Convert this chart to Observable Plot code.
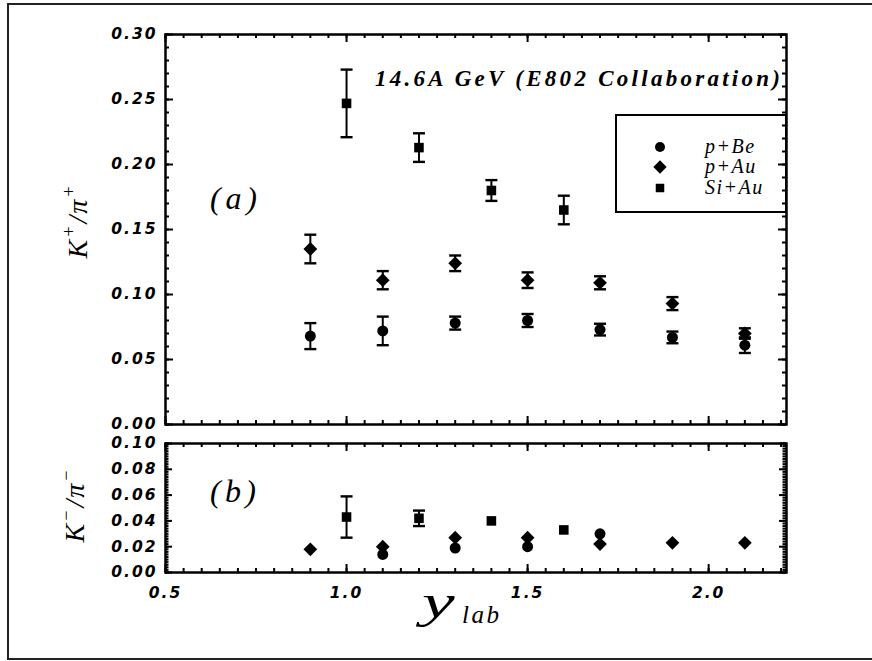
<!DOCTYPE html>
<html>
<head>
<meta charset="utf-8">
<script src="https://cdn.jsdelivr.net/npm/d3@7"></script>
<script src="https://cdn.jsdelivr.net/npm/@observablehq/plot@0.6"></script>
<style>
  body { margin: 0; background: #fff; }
  #fig { position: relative; width: 872px; height: 661px; overflow: hidden; background: #fff; }
  #sheet { position: absolute; left: 7px; top: 3px; width: 900px; height: 657px;
           border: 2px solid #222; border-right: none; box-sizing: border-box; }
  #fig svg { position: absolute; left: 0; }
</style>
</head>
<body>
<div id="fig"><div id="sheet"></div></div>
<script>
// Rapidity bins
const rapPBe  = [0.9, 1.1, 1.3, 1.5, 1.7, 1.9, 2.1];
const rapPAu  = [0.9, 1.1, 1.3, 1.5, 1.7, 1.9, 2.1];
const rapSiAu = [1.0, 1.2, 1.4, 1.6];

// K+/pi+ ratios and errors
const kpPBe     = [0.068, 0.072, 0.078, 0.080, 0.073, 0.067, 0.061];
const kpPBeErr  = [0.010, 0.011, 0.005, 0.005, 0.0045, 0.0045, 0.006];
const kpPAu     = [0.135, 0.111, 0.124, 0.111, 0.109, 0.093, 0.070];
const kpPAuErr  = [0.011, 0.007, 0.006, 0.006, 0.005, 0.005, 0.004];
const kpSiAu    = [0.247, 0.213, 0.180, 0.165];
const kpSiAuErr = [0.026, 0.011, 0.008, 0.011];

// K-/pi- ratios and errors
const rapPBeNeg = [1.1, 1.3, 1.5, 1.7];
const kmPBe     = [0.014, 0.019, 0.020, 0.030];
const kmPAu     = [0.018, 0.020, 0.027, 0.027, 0.022, 0.023, 0.023];
const kmSiAu    = [0.043, 0.042, 0.040, 0.033];
const kmSiAuErr = [0.016, 0.006, 0, 0];

// Axis ticks
const xMajor = [0.5, 1.0, 1.5, 2.0];
const xMinor = d3.range(10, 45).map(i => i * 0.05);
const yTopMajor = [0, 0.05, 0.10, 0.15, 0.20, 0.25, 0.30];
const yTopMinor = d3.range(0, 31).map(i => i / 100);
const yBotMajor = [0, 0.02, 0.04, 0.06, 0.08, 0.10];
const yBotMinor = d3.range(0, 51).map(i => i * 0.002);

const legendLabels = ["p+Be", "p+Au", "Si+Au"];
const xDomain = [0.5, 2.215];
const yTopDomain = [0, 0.30];
const yBotDomain = [0, 0.10];

const rows = (xs, vs, es) => xs.map((x, i) => ({x, v: vs[i], e: es ? es[i] : 0}));

// horizontal bar used as an error-bar cap
const cap = {
  draw(ctx, size) {
    const w = Math.sqrt(size / Math.PI);
    ctx.moveTo(-w, 0);
    ctx.lineTo(w, 0);
  }
};

const axisStyle = {
  fontFamily: "DejaVu Sans",
  fontStyle: "italic",
  fontWeight: "bold",
  fontSize: "15.5px",
  letterSpacing: "2px",
  color: "black",
  background: "transparent",
  overflow: "visible"
};

const W = 872, ML = 165, MR = 86;
const innerW = W - ML - MR;

// inward ticks on all four sides, as short rules; tick lengths are
// given in pixels and converted to data units of the panel
function boxTicks(innerH, yDom, yMajor, yMinor, yMaj, yMin, xMaj, xMin) {
  const ux = (xDomain[1] - xDomain[0]) / innerW;
  const uy = (yDom[1] - yDom[0]) / innerH;
  const ty = (ticks, len) => [
    Plot.ruleY(ticks, {y: d => d, x1: xDomain[0], x2: xDomain[0] + len * ux, stroke: "black", strokeWidth: 2}),
    Plot.ruleY(ticks, {y: d => d, x1: xDomain[1] - len * ux, x2: xDomain[1], stroke: "black", strokeWidth: 2})
  ];
  const tx = (ticks, len) => [
    Plot.ruleX(ticks, {x: d => d, y1: yDom[0], y2: yDom[0] + len * uy, stroke: "black", strokeWidth: 2}),
    Plot.ruleX(ticks, {x: d => d, y1: yDom[1] - len * uy, y2: yDom[1], stroke: "black", strokeWidth: 2})
  ];
  return [...ty(yMinor, yMin), ...ty(yMajor, yMaj), ...tx(xMinor, xMin), ...tx(xMajor, xMaj)];
}

function errorMarks(data) {
  const d = data.filter(r => r.e > 0);
  return [
    Plot.ruleX(d, {x: "x", y1: r => r.v - r.e, y2: r => r.v + r.e, stroke: "black", strokeWidth: 2}),
    Plot.dot(d, {x: "x", y: r => r.v + r.e, symbol: cap, r: 6, fill: "none", stroke: "black", strokeWidth: 2.4}),
    Plot.dot(d, {x: "x", y: r => r.v - r.e, symbol: cap, r: 6, fill: "none", stroke: "black", strokeWidth: 2.4})
  ];
}

function dotMarks(be, au, si) {
  return [
    Plot.dot(be, {x: "x", y: "v", symbol: "circle", r: 5.5, fill: "black"}),
    Plot.dot(au, {x: "x", y: "v", symbol: "diamond2", r: 6.2, fill: "black"}),
    Plot.dot(si, {x: "x", y: "v", symbol: "square", r: 5.4, fill: "black"})
  ];
}

const fig = document.getElementById("fig");

// (a) K+/pi+
const kpBe = rows(rapPBe, kpPBe, kpPBeErr);
const kpAu = rows(rapPAu, kpPAu, kpPAuErr);
const kpSi = rows(rapSiAu, kpSiAu, kpSiAuErr);
const topH = 436, topMT = 34, topMB = 12;
const topPlot = Plot.plot({
  width: W, height: topH,
  marginLeft: ML, marginRight: MR, marginTop: topMT, marginBottom: topMB,
  x: {domain: xDomain, label: null, axis: null},
  y: {domain: yTopDomain, label: null},
  style: axisStyle,
  marks: [
    Plot.axisY({anchor: "left", ticks: yTopMajor, tickSize: 0, tickPadding: 8, tickFormat: d3.format(".2f"), label: null}),
    Plot.frame({stroke: "black", strokeWidth: 2.5}),
    ...boxTicks(topH - topMT - topMB, yTopDomain, yTopMajor, yTopMinor, 8, 4, 8, 4),
    ...errorMarks([...kpBe, ...kpAu, ...kpSi]),
    ...dotMarks(kpBe, kpAu, kpSi)
  ]
});
topPlot.style.top = "0px";
fig.append(topPlot);

// (b) K-/pi-
const kmBe = rows(rapPBeNeg, kmPBe);
const kmAu = rows(rapPAu, kmPAu);
const kmSi = rows(rapSiAu, kmSiAu, kmSiAuErr);
const botH = 225, botMT = 7, botMB = 89;
const botPlot = Plot.plot({
  width: W, height: botH,
  marginLeft: ML, marginRight: MR, marginTop: botMT, marginBottom: botMB,
  x: {domain: xDomain, label: null},
  y: {domain: yBotDomain, label: null},
  style: axisStyle,
  marks: [
    Plot.axisY({anchor: "left", ticks: yBotMajor, tickSize: 0, tickPadding: 8, tickFormat: d3.format(".2f"), label: null}),
    Plot.axisX({anchor: "bottom", ticks: xMajor, tickSize: 0, tickPadding: 14, tickFormat: d3.format(".1f"), label: null}),
    Plot.frame({stroke: "black", strokeWidth: 2.5}),
    ...boxTicks(botH - botMT - botMB, yBotDomain, yBotMajor, yBotMinor, 7, 3.5, 8, 4),
    ...errorMarks(kmSi),
    ...dotMarks(kmBe, kmAu, kmSi)
  ]
});
botPlot.style.top = "436px";
fig.append(botPlot);

// annotations: titles, panel tags, axis titles, legend
const ann = d3.select(fig).append("svg")
  .attr("width", 872).attr("height", 661)
  .style("top", "0px").style("pointer-events", "none");

const serif = "Liberation Serif";

ann.append("text")
  .attr("x", 375).attr("y", 86)
  .attr("textLength", 405).attr("lengthAdjust", "spacing")
  .style("font", `italic bold 23px "${serif}"`)
  .text("14.6A GeV (E802 Collaboration)");

ann.append("text").attr("x", 210).attr("y", 209)
  .attr("textLength", 47).attr("lengthAdjust", "spacing")
  .style("font", `italic 32px "${serif}"`).text("(a)");
ann.append("text").attr("x", 210).attr("y", 502)
  .attr("textLength", 46).attr("lengthAdjust", "spacing")
  .style("font", `italic 32px "${serif}"`).text("(b)");

function ratioLabel(x, y, sign) {
  const t = ann.append("text")
    .attr("transform", `translate(${x},${y}) rotate(-90)`)
    .attr("text-anchor", "middle")
    .style("font", `italic 28px "${serif}"`)
    .style("letter-spacing", "2px");
  t.append("tspan").text("K");
  t.append("tspan").attr("dy", -12).style("font-size", "18px").text(sign);
  t.append("tspan").attr("dy", 12).text("/");
  t.append("tspan").text("π");
  t.append("tspan").attr("dy", -12).style("font-size", "18px").text(sign);
}
ratioLabel(87, 221, "+");
ratioLabel(84, 505, "\u2212");

ann.append("text")
  .attr("transform", "translate(422,617) scale(1.6,1)")
  .style("font", `italic 46px "${serif}"`).text("y");
ann.append("text").attr("x", 462).attr("y", 623)
  .style("font", `italic 25px "${serif}"`).style("letter-spacing", "2.5px").text("lab");

// legend box
const lg = ann.append("g");
lg.append("rect").attr("x", 616).attr("y", 115).attr("width", 170).attr("height", 97)
  .attr("fill", "none").attr("stroke", "black").attr("stroke-width", 2);
const legendSymbols = [
  {type: d3.symbolCircle, r: 5},
  {type: d3.symbolDiamond2, r: 6},
  {type: d3.symbolSquare, r: 4.8}
];
const legendRowY = [147, 167, 188];
legendLabels.forEach((lab, i) => {
  const s = legendSymbols[i];
  lg.append("path")
    .attr("transform", `translate(660,${legendRowY[i]})`)
    .attr("d", d3.symbol(s.type, Math.PI * s.r * s.r)())
    .attr("fill", "black");
  lg.append("text").attr("x", 705).attr("y", legendRowY[i] + 6)
    .style("font", `italic 20px "${serif}"`).style("letter-spacing", "1.5px")
    .text(lab);
});
</script>
</body>
</html>
